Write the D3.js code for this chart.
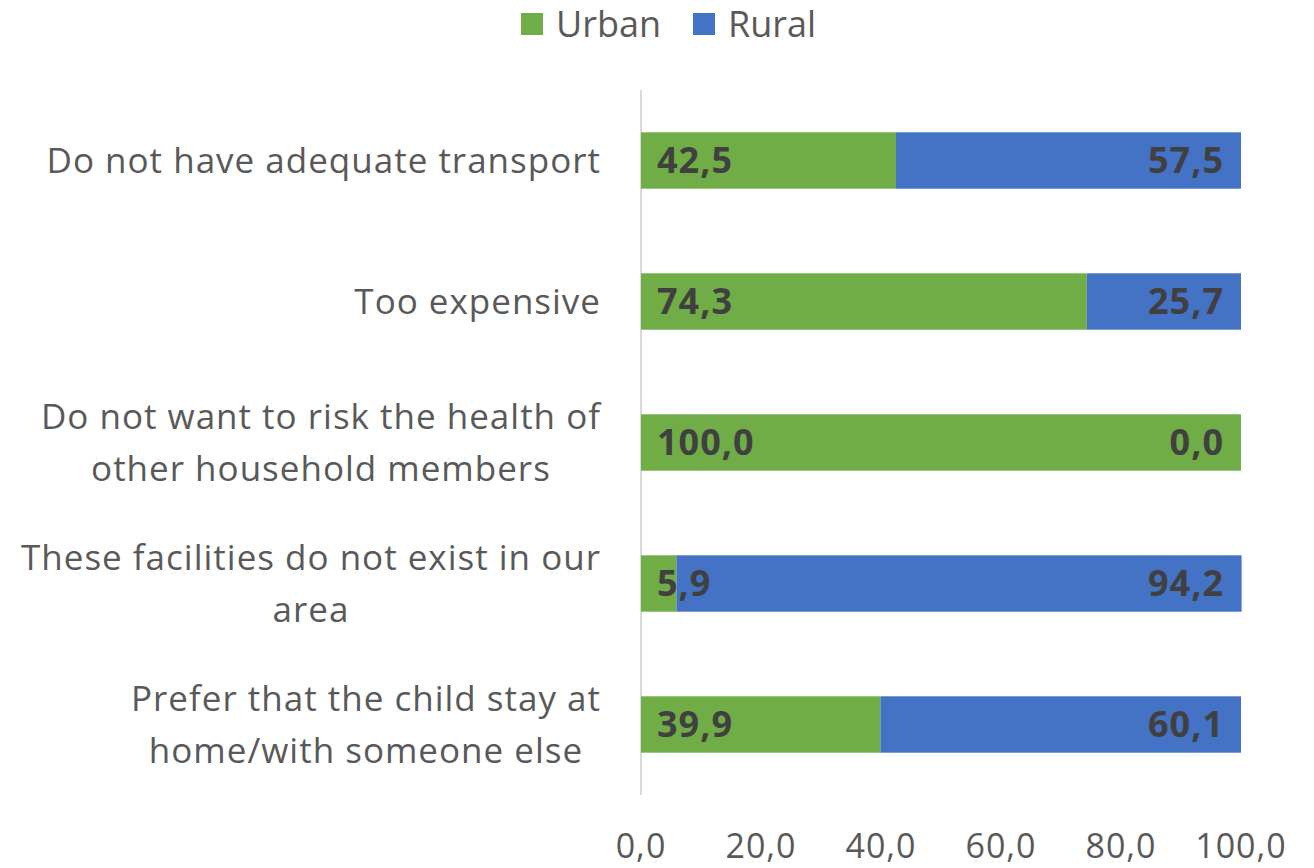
<!DOCTYPE html>
<html>
<head>
<meta charset="utf-8">
<script src="https://cdn.jsdelivr.net/npm/d3@7"></script>
<style>
  body { margin: 0; background: #fff; }
  svg { font-family: "Open Sans", sans-serif; }
</style>
</head>
<body>
<div id="chart"></div>
<script>
const width = 1314;
const height = 868;

const categories = [
    ["Do not have adequate transport"],
    ["Too expensive"],
    ["Do not want to risk the health of", "other household members"],
    ["These facilities do not exist in our", "area"],
    ["Prefer that the child stay at", "home/with someone else"]
];
const urban = [42.5, 74.3, 100.0, 5.9, 39.9];
const rural = [57.5, 25.7, 0.0, 94.2, 60.1];
const seriesNames = ["Urban", "Rural"];
const ticks = [0, 20, 40, 60, 80, 100];

const colors = { Urban: "#70ad47", Rural: "#4472c4" };
const fmt = v => v.toFixed(1).replace(".", ",");

const svg = d3.select("#chart")
    .append("svg")
    .attr("width", width)
    .attr("height", height);

const x = d3.scaleLinear().domain([0, 100]).range([641, 1241]);
const y = d3.scaleBand()
    .domain(d3.range(categories.length))
    .range([90, 795])
    .paddingInner(0.6)
    .paddingOuter(0.3);

const rows = categories.map((c, i) => ({ i, label: c, Urban: urban[i], Rural: rural[i] }));

// axis line
svg.append("line")
    .attr("x1", x(0)).attr("x2", x(0))
    .attr("y1", 90).attr("y2", 795)
    .attr("stroke", "#d9d9d9")
    .attr("stroke-width", 2);

const rowG = svg.selectAll(".row")
    .data(rows)
    .enter()
    .append("g")
    .attr("class", "row");

rowG.append("rect")
    .attr("x", x(0))
    .attr("y", d => y(d.i))
    .attr("width", d => x(d.Urban) - x(0))
    .attr("height", y.bandwidth())
    .attr("fill", colors.Urban);

rowG.append("rect")
    .attr("x", d => x(d.Urban))
    .attr("y", d => y(d.i))
    .attr("width", d => x(d.Urban + d.Rural) - x(d.Urban))
    .attr("height", y.bandwidth())
    .attr("fill", colors.Rural);

rowG.append("text")
    .attr("x", x(0) + 16)
    .attr("y", d => y(d.i) + y.bandwidth() / 2)
    .attr("dy", "0.36em")
    .attr("font-size", 36)
    .attr("font-weight", "bold")
    .attr("letter-spacing", 1)
    .attr("fill", "#404040")
    .text(d => fmt(d.Urban));

rowG.append("text")
    .attr("x", d => x(Math.min(100, d.Urban + d.Rural)) - 17)
    .attr("y", d => y(d.i) + y.bandwidth() / 2)
    .attr("dy", "0.36em")
    .attr("text-anchor", "end")
    .attr("font-size", 36)
    .attr("font-weight", "bold")
    .attr("letter-spacing", 1)
    .attr("fill", "#404040")
    .text(d => fmt(d.Rural));

// category labels
const lab = rowG.append("text")
    .attr("text-anchor", "end")
    .attr("font-size", 35)
    .attr("letter-spacing", 1)
    .attr("fill", "#595959");

lab.each(function(d) {
    const t = d3.select(this);
    const cy = y(d.i) + y.bandwidth() / 2;
    const lh = 52;
    const n = d.label.length;
    d.label.forEach((line, k) => {
        t.append("tspan")
            .attr("x", 601)
            .attr("y", cy + (k - (n - 1) / 2) * lh)
            .attr("dy", "0.36em")
            .text(line);
    });
});
// second lines of two-line labels are centered under the first line
lab.each(function(d) {
    if (d.label.length < 2) return;
    const spans = d3.select(this).selectAll("tspan").nodes();
    const w0 = spans[0].getComputedTextLength();
    const mid = 601 - w0 / 2;
    d3.select(spans[1]).attr("x", mid).attr("text-anchor", "middle");
});

// x tick labels
svg.selectAll(".tick")
    .data(ticks)
    .enter()
    .append("text")
    .attr("class", "tick")
    .attr("x", d => x(d))
    .attr("y", 846)
    .attr("dy", "0.36em")
    .attr("text-anchor", "middle")
    .attr("font-size", 34)
    .attr("letter-spacing", 1)
    .attr("fill", "#595959")
    .text(d => fmt(d));

// legend
const legend = svg.selectAll(".legend")
    .data(seriesNames)
    .enter()
    .append("g")
    .attr("class", "legend")
    .attr("transform", (d, i) => `translate(${i === 0 ? 521 : 693},13)`);

legend.append("rect")
    .attr("width", 22)
    .attr("height", 22)
    .attr("fill", d => colors[d]);

legend.append("text")
    .attr("x", 35)
    .attr("y", 11)
    .attr("dy", "0.36em")
    .attr("font-size", 36)
    .attr("fill", "#595959")
    .text(d => d);
</script>
</body>
</html>
